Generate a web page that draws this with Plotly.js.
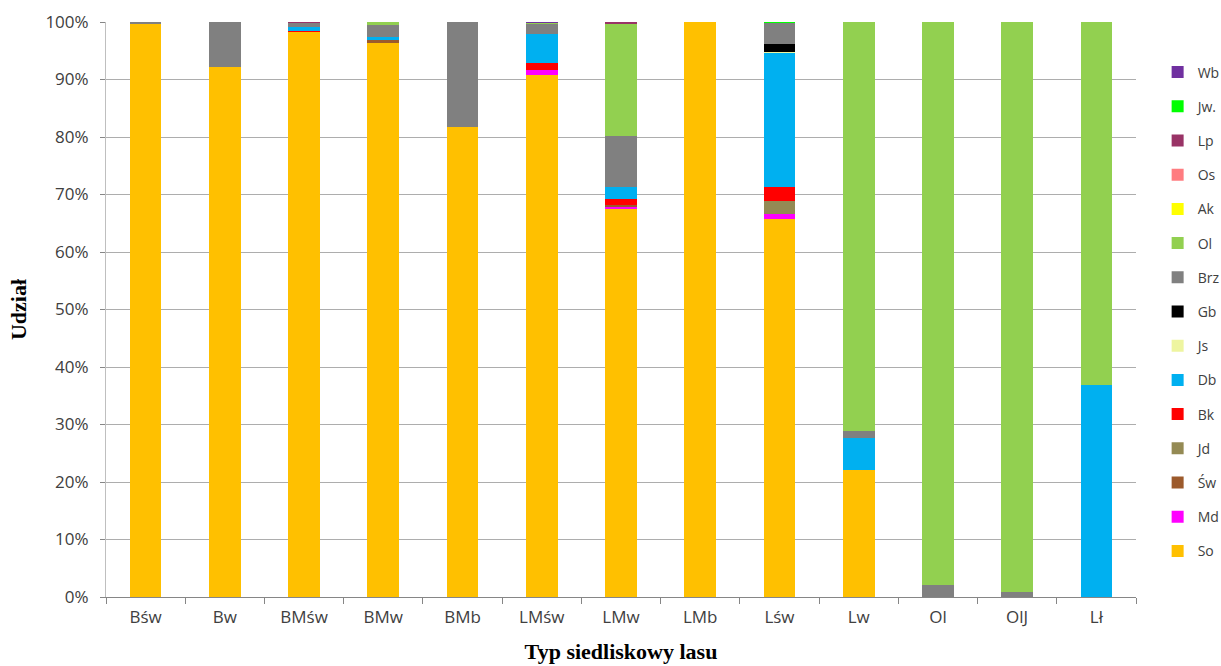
<!DOCTYPE html>
<html><head><meta charset="utf-8">
<script src="https://cdn.plot.ly/plotly-3.0.1.min.js"></script>
<style>html,body{margin:0;padding:0;background:#fff}#chart{width:1221px;height:666px}</style>
</head><body><div id="chart"></div>
<script>
const categories = ["Bśw","Bw","BMśw","BMw","BMb","LMśw","LMw","LMb","Lśw","Lw","Ol","OlJ","Lł"];
const So  = [99.7, 92.2, 98.3, 96.3, 81.8, 90.7, 67.4, 100, 65.7, 22.1, 0, 0, 0];
const Md  = [0, 0, 0, 0, 0, 0.9, 0.35, 0, 0.9, 0, 0, 0, 0];
const Sw  = [0, 0, 0, 0.5, 0, 0, 0.4, 0, 0, 0, 0, 0, 0];
const Jd  = [0, 0, 0, 0, 0, 0, 0, 0, 2.2, 0, 0, 0, 0];
const Bk  = [0, 0, 0.2, 0, 0, 1.2, 1.1, 0, 2.5, 0, 0, 0, 0];
const Db  = [0, 0, 0.6, 0.6, 0, 5.1, 2.0, 0, 23.2, 5.6, 0, 0, 36.9];
const Js  = [0, 0, 0, 0, 0, 0, 0, 0, 0.15, 0, 0, 0, 0];
const Gb  = [0, 0, 0, 0, 0, 0, 0, 0, 1.45, 0, 0, 0, 0];
const Brz = [0.3, 7.8, 0.7, 2.0, 18.2, 1.8, 9.0, 0, 3.7, 1.2, 2.1, 0.8, 0];
const Ol  = [0, 0, 0, 0.6, 0, 0.2, 19.4, 0, 0, 71.1, 97.9, 99.2, 63.1];
const Ak  = [0, 0, 0, 0, 0, 0, 0, 0, 0, 0, 0, 0, 0];
const Os  = [0, 0, 0, 0, 0, 0, 0, 0, 0, 0, 0, 0, 0];
const Lp  = [0, 0, 0.2, 0, 0, 0, 0.35, 0, 0, 0, 0, 0, 0];
const Jw  = [0, 0, 0, 0, 0, 0, 0, 0, 0.15, 0, 0, 0, 0];
const Wb  = [0, 0, 0, 0, 0, 0.1, 0, 0, 0, 0, 0, 0, 0];

const seriesNames = ["So","Md","Św","Jd","Bk","Db","Js","Gb","Brz","Ol","Ak","Os","Lp","Jw.","Wb"];
const seriesValues = [So, Md, Sw, Jd, Bk, Db, Js, Gb, Brz, Ol, Ak, Os, Lp, Jw, Wb];
const seriesColors = ["#FFC000","#FF00FF","#9C5A2C","#948A54","#FF0000","#00B0F0","#EEF5A0","#000000","#808080","#92D050","#FFFF00","#FF7C80","#993366","#00FF00","#7030A0"];

const traces = seriesNames.map((n, i) => ({
  type: "bar", name: n, x: categories, y: seriesValues[i],
  marker: {color: seriesColors[i], line: {width: 0}},
  legendgroup: "g" + i, legendrank: 100 - i
}));

const layout = {
  width: 1221, height: 666,
  margin: {l: 106, r: 85, t: 22, b: 69, autoexpand: false},
  barmode: "stack", barnorm: "percent", bargap: 0.6,
  paper_bgcolor: "#fff", plot_bgcolor: "#fff",
  font: {family: "Open Sans, Liberation Sans, sans-serif", color: "#404040", size: 17},
  xaxis: {
    type: "category", tickson: "boundaries", ticks: "outside", ticklen: 6, tickcolor: "#868686",
    showline: true, linecolor: "#868686", linewidth: 1, showgrid: false,
    tickfont: {size: 17, color: "#404040"}, ticklabelstandoff: 5,
    title: {text: "Typ siedliskowy lasu", font: {family: "Liberation Serif, serif", size: 22, color: "#000", weight: "bold"}, standoff: 16}
  },
  yaxis: {
    range: [0, 100], dtick: 10, ticksuffix: "%", ticks: "outside", ticklen: 5, tickcolor: "#868686",
    showline: true, linecolor: "#BFBFBF", gridcolor: "#ADADAD", gridwidth: 1, zeroline: false,
    tickfont: {size: 17, color: "#404040"}, ticklabelstandoff: 8,
    title: {text: "Udział", font: {family: "Liberation Serif, serif", size: 22, color: "#000", weight: "bold"}, standoff: 12}
  },
  legend: {
    x: 1.021, xanchor: "left", y: 0.94, yanchor: "top",
    traceorder: "grouped", tracegroupgap: 13,
    font: {size: 14, color: "#404040"}
  },
  showlegend: true
};

Plotly.newPlot("chart", traces, layout, {displayModeBar: false, staticPlot: true});
</script>
</body></html>
